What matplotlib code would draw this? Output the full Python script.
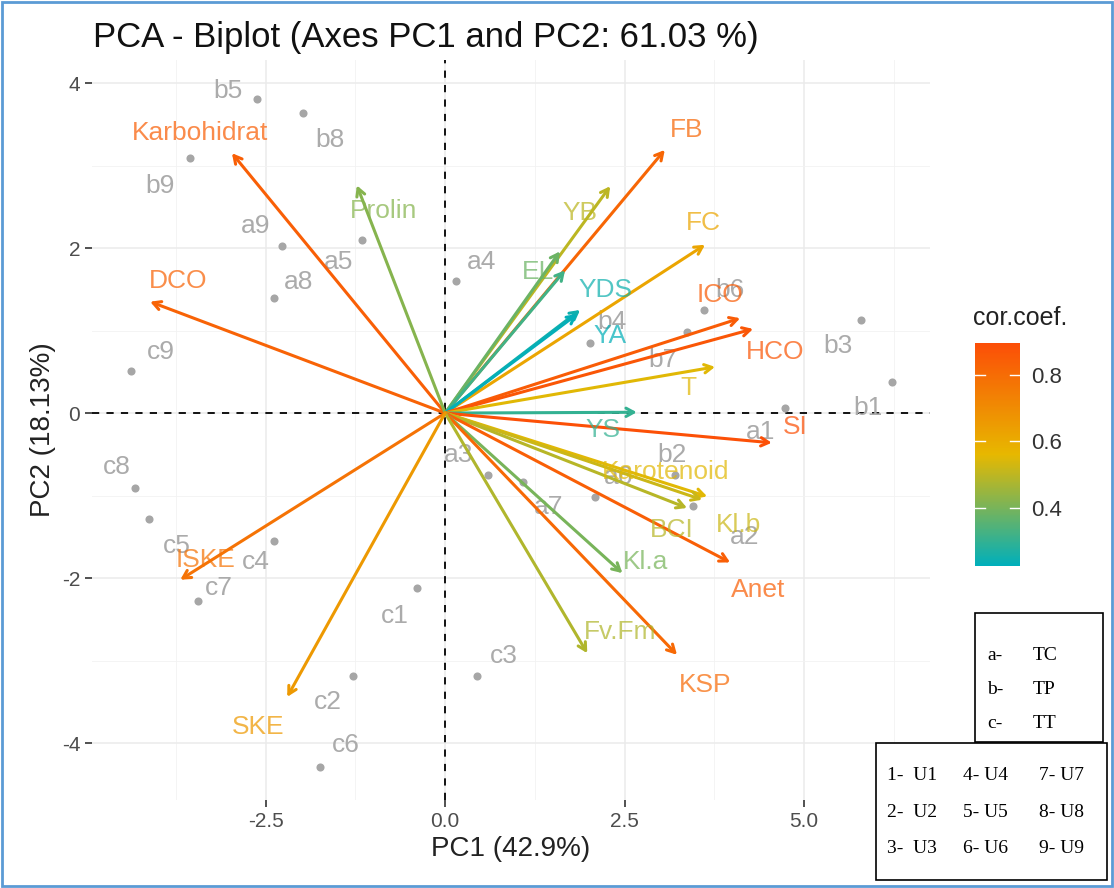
import numpy as np
import matplotlib
matplotlib.use("Agg")
import matplotlib.pyplot as plt
from matplotlib.colors import LinearSegmentedColormap, Normalize
from matplotlib.patches import Rectangle
from matplotlib.ticker import MultipleLocator, FuncFormatter

plt.rcParams['font.family'] = ['Liberation Sans', 'DejaVu Sans']

# individuals (PC1, PC2)
ind_names = ["a1", "a2", "a3", "a4", "a5", "a6", "a7", "a8", "a9",
             "b1", "b2", "b3", "b4", "b5", "b6", "b7", "b8", "b9",
             "c1", "c2", "c3", "c4", "c5", "c6", "c7", "c8", "c9"]
ind_pc1 = [4.74, 3.45, 0.60, 0.15, -1.16, 2.09, 1.09, -2.38, -2.27,
           6.23, 3.20, 5.79, 2.02, -2.62, 3.61, 3.37, -1.98, -3.55,
           -0.39, -1.28, 0.45, -2.38, -4.12, -1.75, -3.45, -4.32, -4.37]
ind_pc2 = [0.06, -1.13, -0.75, 1.60, 2.10, -1.02, -0.84, 1.39, 2.02,
           0.38, -0.75, 1.13, 0.85, 3.81, 1.25, 0.98, 3.64, 3.09,
           -2.12, -3.19, -3.19, -1.55, -1.28, -4.29, -2.28, -0.91, 0.51]

# variables (arrow tips) and their cor.coef.
var_names = ["Karbohidrat", "DCO", "Prolin", "FB", "YB", "FC", "EL", "", "YDS", "YA",
             "ICO", "HCO", "T", "YS", "SI", "Karotenoid", "Kl.b", "BCI", "Anet",
             "Kl.a", "KSP", "Fv.Fm", "ISKE", "SKE"]
var_pc1 = [-2.97, -4.11, -1.23, 3.06, 2.30, 3.62, 1.60, 1.67, 1.88, 1.84,
           4.11, 4.29, 3.76, 2.67, 4.55, 3.65, 3.58, 3.37, 3.97,
           2.47, 3.23, 1.98, -3.69, -2.20]
var_pc2 = [3.15, 1.35, 2.76, 3.19, 2.75, 2.04, 1.96, 1.73, 1.25, 1.20,
           1.15, 1.02, 0.56, 0.01, -0.36, -1.01, -1.05, -1.15, -1.81,
           -1.94, -2.93, -2.91, -2.02, -3.44]
var_cor = [0.84, 0.83, 0.42, 0.82, 0.50, 0.62, 0.38, 0.32, 0.25, 0.23,
           0.85, 0.87, 0.55, 0.30, 0.89, 0.55, 0.52, 0.49, 0.84,
           0.40, 0.81, 0.48, 0.78, 0.66]

# label offsets in pixels (layout only)
ind_off = [(-25, -24), (52, -31), (-30, 20), (26, 19), (-23, -22), (23, 20), (25, -25), (24, 16), (-27, 20),
           (-24, -26), (-3, 20), (-23, -26), (22, 21), (-29, 8), (26, 20), (-24, -28), (27, -27), (-30, -28),
           (-22, -28), (-25, -26), (26, 20), (-19, -21), (27, -27), (26, 22), (21, 13), (-18, 21), (29, 19)]
var_off = [(-32, 20), (28, 21), (27, -26), (22, 20), (-30, -27), (-2, 22), (-22, -21), (0, 0), (25, 20), (33, -22),
           (-20, 23), (22, -23), (-27, -21), (-34, -18), (23, 16), (-42, 24), (36, -25), (-15, -22), (28, -28),
           (23, 11), (28, -30), (33, 21), (25, 20), (-29, -30)]

legend_groups = [("a-", "TC"), ("b-", "TP"), ("c-", "TT")]
legend_units = [["1-  U1", "4- U4", "7- U7"],
                ["2-  U2", "5- U5", "8- U8"],
                ["3-  U3", "6- U6", "9- U9"]]

W, H = 1114, 888
fig = plt.figure(figsize=(W / 100, H / 100), dpi=100)
ax = fig.add_axes([92 / W, 1 - 800 / H, (930 - 92) / W, (800 - 60) / H])

cmap = LinearSegmentedColormap.from_list("fviz", ["#00AFBB", "#E7B800", "#FC4E07"])
norm = Normalize(vmin=0.224, vmax=0.897)

ax.set_xlim(-4.92, 6.755)
ax.set_ylim(-4.69, 4.28)
ax.xaxis.set_major_locator(MultipleLocator(2.5))
ax.xaxis.set_minor_locator(MultipleLocator(1.25))
ax.yaxis.set_major_locator(MultipleLocator(2))
ax.yaxis.set_minor_locator(MultipleLocator(1))
ax.grid(which="major", color="#EBEBEB", lw=1.1)
ax.grid(which="minor", color="#F2F2F2", lw=0.6)
ax.set_axisbelow(True)
for s in ax.spines.values():
    s.set_visible(False)
ax.tick_params(which="major", length=5, width=1.2, color="#333333",
               labelcolor="#4D4D4D", labelsize=15)
ax.tick_params(which="minor", length=0)
ax.xaxis.set_major_formatter(FuncFormatter(lambda v, p: f"{v:.1f}"))
ax.yaxis.set_major_formatter(FuncFormatter(lambda v, p: f"{v:.0f}"))

ax.axhline(0, color="black", ls=(0, (4, 4)), lw=1.3, zorder=1)
ax.axvline(0, color="black", ls=(0, (4, 4)), lw=1.3, zorder=1)

# individuals
ax.scatter(ind_pc1, ind_pc2, s=34, color="#A6A6A6", zorder=2, linewidths=0)
for n, x, y, off in zip(ind_names, ind_pc1, ind_pc2, ind_off):
    ax.annotate(n, (x, y), xytext=off, textcoords="offset pixels", ha="center", va="center",
                fontsize=19, color="#ABABAB", zorder=3)

# variables
for n, x, y, c, off in zip(var_names, var_pc1, var_pc2, var_cor, var_off):
    col = cmap(norm(c))
    ax.annotate("", xy=(x, y), xytext=(0, 0),
                arrowprops=dict(arrowstyle="->,head_length=0.55,head_width=0.3", color=col,
                                lw=2.2, shrinkA=0, shrinkB=0), zorder=4)
    if n:
        ax.annotate(n, (x, y), xytext=off, textcoords="offset pixels", ha="center", va="center",
                    fontsize=19, color=col, alpha=0.72, zorder=5)

ax.set_xlabel("PC1 (42.9%)", fontsize=20, color="#222222", labelpad=4)
ax.set_ylabel("PC2 (18.13%)", fontsize=20, color="#222222", labelpad=4)
fig.text(93 / W, 1 - 38 / H, "PCA - Biplot (Axes PC1 and PC2: 61.03 %)", fontsize=25,
         ha="left", va="center", color="#111111")

# colorbar
cax = fig.add_axes([975 / W, 1 - 566 / H, 45 / W, 223 / H])
cb = fig.colorbar(plt.cm.ScalarMappable(norm=norm, cmap=cmap), cax=cax, ticks=[0.4, 0.6, 0.8])
cb.outline.set_visible(False)
cax.tick_params(length=0, labelsize=16, labelcolor="#333333", pad=8)
cax.set_yticklabels(["0.4", "0.6", "0.8"])
for t in [0.4, 0.6, 0.8]:
    cax.plot([0, 0.22], [t, t], color="white", lw=1)
    cax.plot([0.78, 1], [t, t], color="white", lw=1)
fig.text(1020 / W, 1 - 318 / H, "cor.coef.", fontsize=18, ha="center", va="center", color="#222222")

# boxes
serif = ["Liberation Serif", "DejaVu Serif"]
fig.patches.append(Rectangle((975 / W, 1 - 742 / H), 128 / W, 129 / H, transform=fig.transFigure,
                             facecolor="white", edgecolor="black", lw=1.2, zorder=5))
for i, (a, b) in enumerate(legend_groups):
    yy = 1 - (655 + 34 * i) / H
    fig.text(987 / W, yy, a, family=serif, fontsize=14, va="center", zorder=6)
    fig.text(1033 / W, yy, b, family=serif, fontsize=14, va="center", zorder=6)
fig.patches.append(Rectangle((876 / W, 1 - 880 / H), 231 / W, 137 / H, transform=fig.transFigure,
                             facecolor="white", edgecolor="black", lw=1.2, zorder=5))
for i, row in enumerate(legend_units):
    yy = 1 - (776 + 36 * i) / H
    for j, s in enumerate(row):
        fig.text((887 + 76 * j) / W, yy, s, family=serif, fontsize=14, va="center", zorder=6)

# outer frame
fig.patches.append(Rectangle((0.002, 0.002), 0.996, 0.996, transform=fig.transFigure,
                             fill=False, edgecolor="#5B9BD5", lw=2, zorder=7))

fig.savefig("out.png", dpi=100)
